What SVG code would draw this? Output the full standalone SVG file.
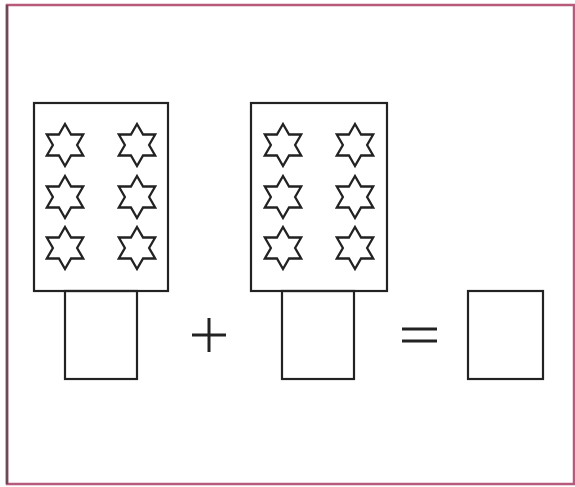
<svg xmlns="http://www.w3.org/2000/svg" width="575" height="487" viewBox="0 0 575 487">
<style>
.box{fill:none;stroke:#222;stroke-width:2.2}
.op{stroke:#222;stroke-width:3;fill:none}
</style>
<defs>
<polygon id="star" points="0,-21 6.06,-10.5 18.19,-10.5 12.12,0 18.19,10.5 6.06,10.5 0,21 -6.06,10.5 -18.19,10.5 -12.12,0 -18.19,-10.5 -6.06,-10.5" fill="none" stroke="#222" stroke-width="2.3" stroke-linejoin="miter"/>
</defs>
<rect width="575" height="487" fill="#fff"/>
<rect x="7" y="5" width="567" height="479" fill="none" stroke="#b85a7c" stroke-width="2.5"/>
<line x1="7" y1="5" x2="7" y2="484" stroke="#6a4a55" stroke-width="2.5"/>
<g id="card1">
<rect class="box" x="34" y="103" width="134" height="188"/>
<use href="#star" x="65" y="145"/>
<use href="#star" x="137" y="145"/>
<use href="#star" x="65" y="197"/>
<use href="#star" x="137" y="197"/>
<use href="#star" x="65" y="248"/>
<use href="#star" x="137" y="248"/>
<rect class="box" x="65" y="291" width="72" height="88"/>
</g>
<g id="plus">
<line class="op" x1="192" y1="335" x2="226" y2="335"/>
<line class="op" x1="209" y1="318" x2="209" y2="352"/>
</g>
<g id="card2">
<rect class="box" x="251" y="103" width="136" height="188"/>
<use href="#star" x="283" y="145"/>
<use href="#star" x="355" y="145"/>
<use href="#star" x="283" y="197"/>
<use href="#star" x="355" y="197"/>
<use href="#star" x="283" y="248"/>
<use href="#star" x="355" y="248"/>
<rect class="box" x="282" y="291" width="72" height="88"/>
</g>
<g id="equals">
<line class="op" x1="402" y1="329" x2="437" y2="329"/>
<line class="op" x1="402" y1="341" x2="437" y2="341"/>
</g>
<g id="answer">
<rect class="box" x="468" y="291" width="75" height="88"/>
</g>
</svg>
